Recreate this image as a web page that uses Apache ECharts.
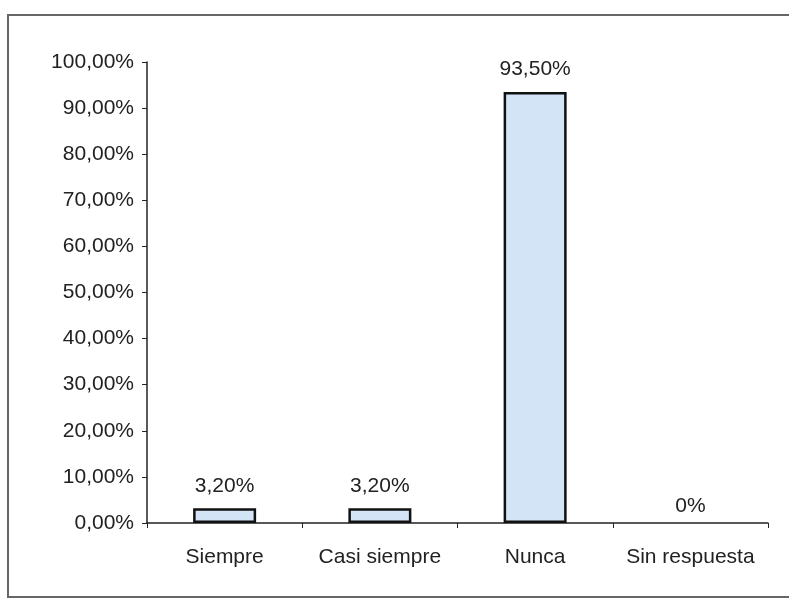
<!DOCTYPE html>
<html>
<head>
<meta charset="utf-8">
<script src="https://cdn.jsdelivr.net/npm/echarts@6/dist/echarts.min.js"></script>
<style>
html,body{margin:0;padding:0;background:#fff;}
#c{width:789px;height:601px;}
</style>
</head>
<body>
<div id="c"></div>
<script>
var categories = ['Siempre', 'Casi siempre', 'Nunca', 'Sin respuesta'];
var values = [3.2, 3.2, 93.5, 0];
var yTicks = [0, 10, 20, 30, 40, 50, 60, 70, 80, 90, 100];

function fmt(v) {
  if (v === 0) return '0%';
  return v.toFixed(2).replace('.', ',') + '%';
}

var barData = values.map(function (v) {
  return v === 0
    ? { value: v, itemStyle: { borderWidth: 0, color: 'transparent' }, label: { distance: 6 } }
    : { value: v };
});

var FONT = 'Liberation Sans, Arial';
var FS = 21;

var chart = echarts.init(document.getElementById('c'));
chart.setOption({
  animation: false,
  backgroundColor: '#fff',
  graphic: [{
    type: 'rect',
    shape: { x: 8, y: 15, width: 790, height: 582 },
    style: { fill: 'none', stroke: '#666', lineWidth: 2 },
    silent: true
  }],
  grid: { left: 147, right: 21, top: 62, bottom: 78 },
  xAxis: {
    type: 'category',
    data: categories,
    axisLine: { lineStyle: { color: '#222', width: 1.5 } },
    axisTick: { show: true, length: 5, lineStyle: { color: '#222' } },
    axisLabel: { color: '#222', fontSize: FS, fontFamily: FONT, margin: 24, interval: 0 }
  },
  yAxis: {
    type: 'value',
    min: 0, max: 100, interval: 10,
    splitLine: { show: false },
    axisLine: { show: true, lineStyle: { color: '#222', width: 1.5 } },
    axisTick: { show: true, length: 5, lineStyle: { color: '#222' } },
    axisLabel: {
      color: '#222', fontSize: FS, fontFamily: FONT, margin: 13,
      formatter: function (v) { return yTicks.indexOf(v) >= 0 ? v.toFixed(2).replace('.', ',') + '%' : ''; }
    }
  },
  series: [{
    type: 'bar',
    data: barData,
    barWidth: 63,
    itemStyle: { color: '#d3e4f7', borderColor: '#111', borderWidth: 2.5 },
    label: {
      show: true, position: 'top', distance: 12,
      color: '#222', fontSize: FS, fontFamily: FONT,
      formatter: function (p) { return fmt(p.value); }
    }
  }]
});
</script>
</body>
</html>
